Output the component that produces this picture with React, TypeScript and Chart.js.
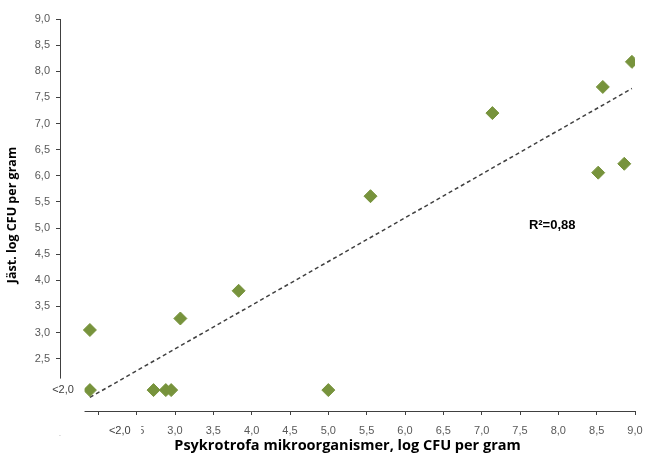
import React, { useEffect, useRef } from "react";
import { Chart, registerables } from "chart.js";

Chart.register(...registerables);

// Scatter values (x: psykrotrofa, y: jäst), log CFU per gram; "<2,0" drawn at ~1.9
const pointsX = [1.89, 1.89, 2.72, 2.88, 2.95, 3.07, 3.83, 5.0, 5.55, 7.14, 8.58, 8.96, 8.52, 8.86];
const pointsY = [3.05, 1.9, 1.9, 1.9, 1.9, 3.27, 3.8, 1.9, 5.61, 7.2, 7.7, 8.18, 6.06, 6.23];

// Trendline end points
const trendX = [1.89, 8.96];
const trendY = [1.76, 7.67];

const axisMin = 1.5;
const axisMax = 9.0;
const axisStep = 0.5;

const xTitle = "Psykrotrofa mikroorganismer, log CFU per gram";
const yTitle = "Jäst. log CFU per gram";
const rSquaredLabel = "R²=0,88";
const rSquaredPos = { x: 7.92, y: 5.05 };
const belowLabel = "<2,0";

const fmt = (v: number) => v.toFixed(1).replace(".", ",");

const overlayPlugin = {
  id: "overlay",
  afterDraw(chart: any) {
    const { ctx, scales, chartArea } = chart;
    const xs = scales.x;
    const ys = scales.y;
    ctx.save();
    // white box over the origin corner (hides 1,5 / 2,0 and axis ends)
    const x0 = xs.getPixelForValue(1.5);
    const xCut = xs.getPixelForValue(1.82);
    const yCut = ys.getPixelForValue(2.12);
    ctx.fillStyle = "#ffffff";
    ctx.fillRect(x0 - 35, yCut, xCut - (x0 - 35), chartArea.bottom + 24 - yCut);
    // white box over x labels 2,0 / 2,5
    const x2 = xs.getPixelForValue(2.0);
    const x25 = xs.getPixelForValue(2.5);
    ctx.fillRect(x2 - 12, chartArea.bottom + 9, x25 + 4.5 - (x2 - 12), 24);

    ctx.fillStyle = "#404040";
    ctx.font = "11px 'Liberation Sans', Arial, sans-serif";
    ctx.textAlign = "center";
    ctx.textBaseline = "middle";
    // y "<2,0"
    ctx.fillText(belowLabel, x0 + 3, ys.getPixelForValue(1.9));
    // x "<2,0"
    ctx.fillText(belowLabel, xs.getPixelForValue(2.28), chartArea.bottom + 20);

    // R² label
    ctx.fillStyle = "#000000";
    ctx.font = "bold 13px 'Liberation Sans', Arial, sans-serif";
    ctx.fillText(rSquaredLabel, xs.getPixelForValue(rSquaredPos.x), ys.getPixelForValue(rSquaredPos.y));
    ctx.restore();
  },
};

export default function App() {
  const canvasRef = useRef<HTMLCanvasElement | null>(null);

  useEffect(() => {
    if (!canvasRef.current) return;
    const scatterData = pointsX.map((x, i) => ({ x, y: pointsY[i] }));
    const trendData = trendX.map((x, i) => ({ x, y: trendY[i] }));
    const tickFont = { family: "'Liberation Sans', Arial, sans-serif", size: 11 };
    const xTitleFont = { family: "'Open Sans', 'Liberation Sans', sans-serif", size: 14.5, weight: "bold" as const };
    const yTitleFont = { family: "'Open Sans', 'Liberation Sans', sans-serif", size: 12.5, weight: "bold" as const };

    const chart = new Chart(canvasRef.current, {
      type: "scatter",
      data: {
        datasets: [
          {
            type: "line",
            label: "Trend",
            data: trendData,
            borderColor: "#404040",
            borderWidth: 1.5,
            borderDash: [4, 3],
            pointRadius: 0,
            fill: false,
            order: 2,
          } as any,
          {
            label: "Jäst",
            data: scatterData,
            pointStyle: "rectRot",
            pointRadius: 6.5,
            pointHoverRadius: 6.5,
            backgroundColor: "#77933C",
            borderColor: "#77933C",
            borderWidth: 1,
            order: 1,
          },
        ],
      },
      options: {
        animation: false,
        responsive: true,
        maintainAspectRatio: false,
        layout: { padding: { left: 0, top: 19, right: 11, bottom: 0 } },
        plugins: {
          legend: { display: false },
          tooltip: { enabled: false },
        },
        scales: {
          x: {
            type: "linear",
            min: axisMin,
            max: axisMax,
            afterFit: (s: any) => {
              s.height = 53;
              s.paddingLeft = 0;
              s.paddingRight = 0;
            },
            ticks: {
              stepSize: axisStep,
              color: "#595959",
              font: tickFont,
              padding: 9,
              maxRotation: 0,
              autoSkip: false,
              callback: (v: any) => fmt(Number(v)),
            },
            grid: { drawOnChartArea: false, drawTicks: true, tickLength: 4, color: "#404040" },
            border: { display: true, color: "#404040", width: 1 },
            title: {
              display: true,
              text: xTitle,
              color: "#000000",
              font: xTitleFont,
              padding: { top: 0, bottom: 9 },
            },
          },
          y: {
            type: "linear",
            min: axisMin,
            max: axisMax,
            afterFit: (s: any) => {
              s.width = 60;
              s.paddingTop = 0;
              s.paddingBottom = 0;
            },
            ticks: {
              stepSize: axisStep,
              color: "#595959",
              font: tickFont,
              padding: 6,
              autoSkip: false,
              callback: (v: any) => fmt(Number(v)),
            },
            grid: { drawOnChartArea: false, drawTicks: true, tickLength: 4, color: "#404040" },
            border: { display: true, color: "#404040", width: 1 },
            title: {
              display: true,
              text: yTitle,
              color: "#000000",
              font: yTitleFont,
              padding: { top: 5, bottom: 0 },
            },
          },
        },
      },
      plugins: [overlayPlugin],
    });
    return () => chart.destroy();
  }, []);

  return (
    <div style={{ position: "fixed", left: 0, top: 0, width: 646, height: 464, background: "#fff" }}>
      <canvas ref={canvasRef} />
    </div>
  );
}
